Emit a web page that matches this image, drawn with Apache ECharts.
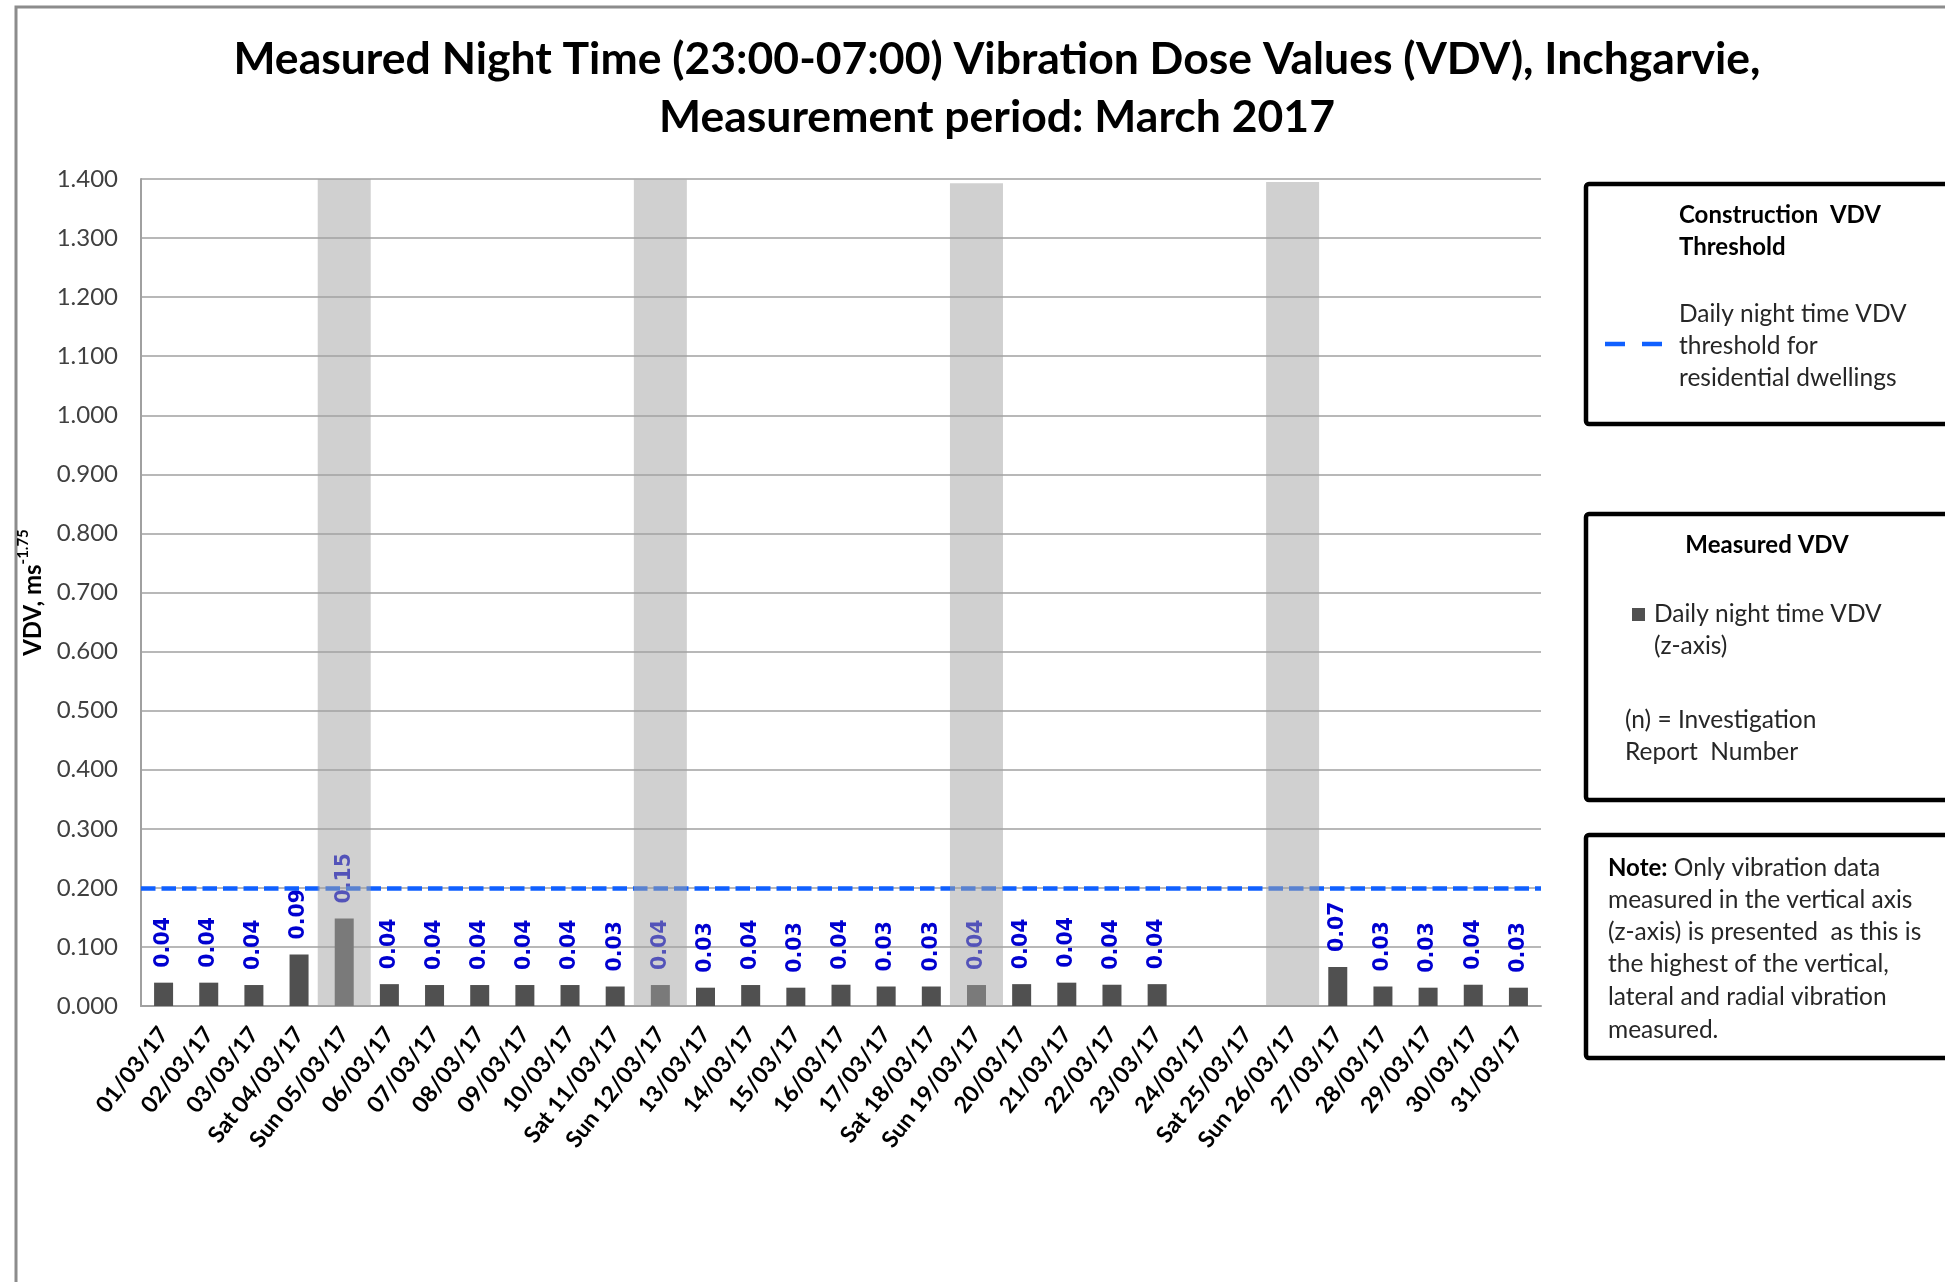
<!DOCTYPE html>
<html>
<head>
<meta charset="utf-8">
<script src="https://cdn.jsdelivr.net/npm/echarts@6/dist/echarts.min.js"></script>
<style>
html,body{margin:0;padding:0;background:#fff;}
#chart{width:1945px;height:1282px;}
</style>
</head>
<body>
<div id="chart"></div>
<script>
var categories = ['01/03/17','02/03/17','03/03/17','Sat 04/03/17','Sun 05/03/17','06/03/17','07/03/17','08/03/17','09/03/17','10/03/17','Sat 11/03/17','Sun 12/03/17','13/03/17','14/03/17','15/03/17','16/03/17','17/03/17','Sat 18/03/17','Sun 19/03/17','20/03/17','21/03/17','22/03/17','23/03/17','24/03/17','Sat 25/03/17','Sun 26/03/17','27/03/17','28/03/17','29/03/17','30/03/17','31/03/17'];
var vdvValues = [0.0395,0.0395,0.0355,0.087,0.148,0.037,0.0355,0.0355,0.0355,0.0355,0.033,0.0355,0.031,0.0355,0.031,0.036,0.033,0.033,0.0355,0.037,0.0395,0.036,0.037,null,null,null,0.066,0.033,0.031,0.036,0.031];
var sundayBands = [null,null,null,null,1.404,null,null,null,null,null,null,1.399,null,null,null,null,null,null,1.393,null,null,null,null,null,null,1.395,null,null,null,null,null];
var thresholdValue = 0.2;
var yTicks = {min: 0, max: 1.4, interval: 0.1};

var chart = echarts.init(document.getElementById('chart'));
var textCol = '#262626';
var lf = 'Lato, Carlito, "Open Sans", sans-serif';
var fsR = 24.5, fsB = 24;

var option = {
  backgroundColor: '#fff',
  animation: false,
  title: {
    text: 'Measured Night Time (23:00-07:00) Vibration Dose Values (VDV), Inchgarvie,\nMeasurement period: March 2017',
    left: 992, top: 26, textAlign: 'center',
    textStyle: {fontFamily: lf, fontWeight: 'bold', fontSize: 44.5, lineHeight: 58, color: '#000'}
  },
  grid: {left: 141, top: 179, width: 1400, height: 827, containLabel: false},
  xAxis: [{
    type: 'category', data: categories,
    axisLine: {lineStyle: {color: '#a0a0a0', width: 2}},
    axisTick: {show: false},
    axisLabel: {interval: 0, rotate: 52, margin: 24, color: '#000', fontFamily: lf, fontWeight: 'bold', fontSize: 23}
  }, {
    type: 'category', data: categories, show: false
  }],
  yAxis: {
    type: 'value', min: yTicks.min, max: yTicks.max, interval: yTicks.interval,
    name: '{m|VDV, ms}{s|-1.75}', nameLocation: 'middle', nameGap: 92, nameRotate: 90,
    nameTextStyle: {rich: {
      m: {fontFamily: lf, fontWeight: 'bold', fontSize: 24, color: '#000', lineHeight: 30, verticalAlign: 'bottom'},
      s: {fontFamily: lf, fontWeight: 'bold', fontSize: 15, color: '#000', lineHeight: 30, verticalAlign: 'top', padding: [0,0,8,0]}
    }},
    axisLine: {show: true, lineStyle: {color: '#a0a0a0', width: 2}},
    axisTick: {show: false},
    splitLine: {lineStyle: {color: '#a0a0a0', width: 1.5}},
    axisLabel: {margin: 23, color: '#404040', fontFamily: lf, fontSize: 24, formatter: function(v){return v.toFixed(3);}}
  },
  series: [{
    name: 'Daily night time VDV (z-axis)', type: 'bar', data: vdvValues, barWidth: 19, z: 2,
    itemStyle: {color: '#505050'},
    label: {show: true, position: 'top', rotate: 90, align: 'left', verticalAlign: 'middle', distance: 15,
      color: '#0000D0', fontFamily: '"DejaVu Sans", Verdana, sans-serif', fontWeight: 'bold', fontSize: 20.5,
      formatter: function(p){return p.value == null ? '' : p.value.toFixed(2);}},
    markLine: {
      silent: true, symbol: 'none', label: {show: false},
      lineStyle: {color: '#1060FF', width: 4.5, type: [14.5, 6]},
      data: [{yAxis: thresholdValue}]
    }
  }, {
    name: 'Sunday', type: 'bar', xAxisIndex: 1, data: sundayBands, barWidth: 53, z: 5, silent: true,
    itemStyle: {color: 'rgba(163,163,163,0.51)'}
  }],
  graphic: [
    {type: 'polyline', shape: {points: [[16, 1290], [16, 7], [1960, 7]]}, style: {stroke: '#8c8c8c', lineWidth: 3, fill: null}},
    {type: 'rect', shape: {x: 1586, y: 184, width: 420, height: 240, r: 3}, style: {stroke: '#000', lineWidth: 4.5, fill: '#fff'}},
    {type: 'rect', shape: {x: 1586, y: 514, width: 420, height: 286, r: 3}, style: {stroke: '#000', lineWidth: 4.5, fill: '#fff'}},
    {type: 'rect', shape: {x: 1586, y: 835, width: 420, height: 223, r: 3}, style: {stroke: '#000', lineWidth: 4.5, fill: '#fff'}},
    {type: 'text', x: 1679, y: 215, style: {text: 'Construction  VDV', fontFamily: lf, fontWeight: 'bold', fontSize: fsB, fill: '#000', verticalAlign: 'middle'}},
    {type: 'text', x: 1679, y: 247, style: {text: 'Threshold', fontFamily: lf, fontWeight: 'bold', fontSize: fsB, fill: '#000', verticalAlign: 'middle'}},
    {type: 'line', shape: {x1: 1605, y1: 344, x2: 1662, y2: 344}, style: {stroke: '#1060FF', lineWidth: 4.5, lineDash: [20, 17]}},
    {type: 'text', x: 1679, y: 314, style: {text: 'Daily night time VDV', fontFamily: lf, fontSize: fsR, fill: textCol, verticalAlign: 'middle'}},
    {type: 'text', x: 1679, y: 346, style: {text: 'threshold for', fontFamily: lf, fontSize: fsR, fill: textCol, verticalAlign: 'middle'}},
    {type: 'text', x: 1679, y: 378, style: {text: 'residential dwellings', fontFamily: lf, fontSize: fsR, fill: textCol, verticalAlign: 'middle'}},
    {type: 'text', x: 1767, y: 545, style: {text: 'Measured VDV', fontFamily: lf, fontWeight: 'bold', fontSize: fsB, fill: '#000', align: 'center', verticalAlign: 'middle'}},
    {type: 'rect', shape: {x: 1632, y: 608, width: 13, height: 13}, style: {fill: '#505050'}},
    {type: 'text', x: 1654, y: 614, style: {text: 'Daily night time VDV', fontFamily: lf, fontSize: fsR, fill: textCol, verticalAlign: 'middle'}},
    {type: 'text', x: 1654, y: 646, style: {text: '(z-axis)', fontFamily: lf, fontSize: fsR, fill: textCol, verticalAlign: 'middle'}},
    {type: 'text', x: 1625, y: 720, style: {text: '(n) = Investigation', fontFamily: lf, fontSize: fsR, fill: textCol, verticalAlign: 'middle'}},
    {type: 'text', x: 1625, y: 752, style: {text: 'Report  Number', fontFamily: lf, fontSize: fsR, fill: textCol, verticalAlign: 'middle'}},
    {type: 'text', x: 1608, y: 868, style: {text: '{b|Note:} Only vibration data', rich: {b: {fontFamily: lf, fontWeight: 'bold', fontSize: fsB, fill: '#000'}}, fontFamily: lf, fontSize: fsR, fill: textCol, verticalAlign: 'middle'}},
    {type: 'text', x: 1608, y: 900, style: {text: 'measured in the vertical axis', fontFamily: lf, fontSize: fsR, fill: textCol, verticalAlign: 'middle'}},
    {type: 'text', x: 1608, y: 932, style: {text: '(z-axis) is presented  as this is', fontFamily: lf, fontSize: fsR, fill: textCol, verticalAlign: 'middle'}},
    {type: 'text', x: 1608, y: 964, style: {text: 'the highest of the vertical,', fontFamily: lf, fontSize: fsR, fill: textCol, verticalAlign: 'middle'}},
    {type: 'text', x: 1608, y: 997, style: {text: 'lateral and radial vibration', fontFamily: lf, fontSize: fsR, fill: textCol, verticalAlign: 'middle'}},
    {type: 'text', x: 1608, y: 1030, style: {text: 'measured.', fontFamily: lf, fontSize: fsR, fill: textCol, verticalAlign: 'middle'}}
  ]
};
chart.setOption(option);
</script>
</body>
</html>
